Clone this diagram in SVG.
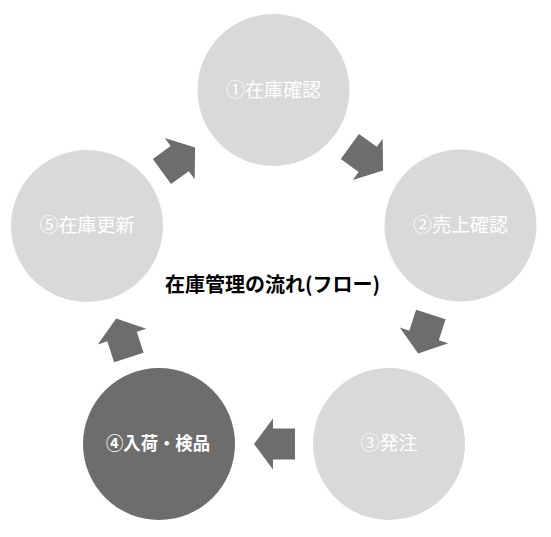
<svg xmlns="http://www.w3.org/2000/svg" width="551" height="537" viewBox="0 0 551 537">
<style>
.light{fill:#d9d9d9}
.dark{fill:#6d6d6d}
.arr{fill:#6d6d6d}
.t{font-family:"Noto Sans CJK JP","Noto Sans",sans-serif;font-size:19px;text-anchor:middle;fill:#ffffff}
.tb{font-weight:bold;font-size:18px}
.title{font-family:"Noto Sans CJK JP","Noto Sans",sans-serif;font-size:20px;font-weight:bold;text-anchor:middle;fill:#000000}
</style>
<defs>
<polygon id="blk" points="-20.5,-15.5 1.5,-15.5 1.5,-25.5 20.5,0 1.5,25.5 1.5,15.5 -20.5,15.5"/>
</defs>
<rect width="551" height="537" fill="#ffffff"/>
<g id="connectors">
<use href="#blk" class="arr" transform="translate(366.5,158.5) rotate(35.9)"/>
<use href="#blk" class="arr" transform="translate(424.5,334) rotate(108)"/>
<use href="#blk" class="arr" transform="translate(274.5,444) rotate(180)"/>
<use href="#blk" class="arr" transform="translate(122.5,338) rotate(252)"/>
<use href="#blk" class="arr" transform="translate(178.5,159.5) rotate(-35.9)"/>
</g>
<g id="n1"><circle class="light" cx="273.5" cy="90" r="76"/><text class="t" x="273.5" y="97">①在庫確認</text></g>
<g id="n2"><circle class="light" cx="460.5" cy="225.5" r="76"/><text class="t" x="460.5" y="232">②売上確認</text></g>
<g id="n3"><circle class="light" cx="389" cy="444" r="76"/><text class="t" x="389" y="450">③発注</text></g>
<g id="n4"><circle class="dark" cx="159" cy="444" r="76"/><text class="t tb" x="158" y="450" textLength="104" lengthAdjust="spacingAndGlyphs">④入荷・検品</text></g>
<g id="n5"><circle class="light" cx="87" cy="226" r="76"/><text class="t" x="87" y="232">⑤在庫更新</text></g>
<g id="title"><text class="title" x="272.5" y="292">在庫管理の流れ(フロー)</text></g>
</svg>
